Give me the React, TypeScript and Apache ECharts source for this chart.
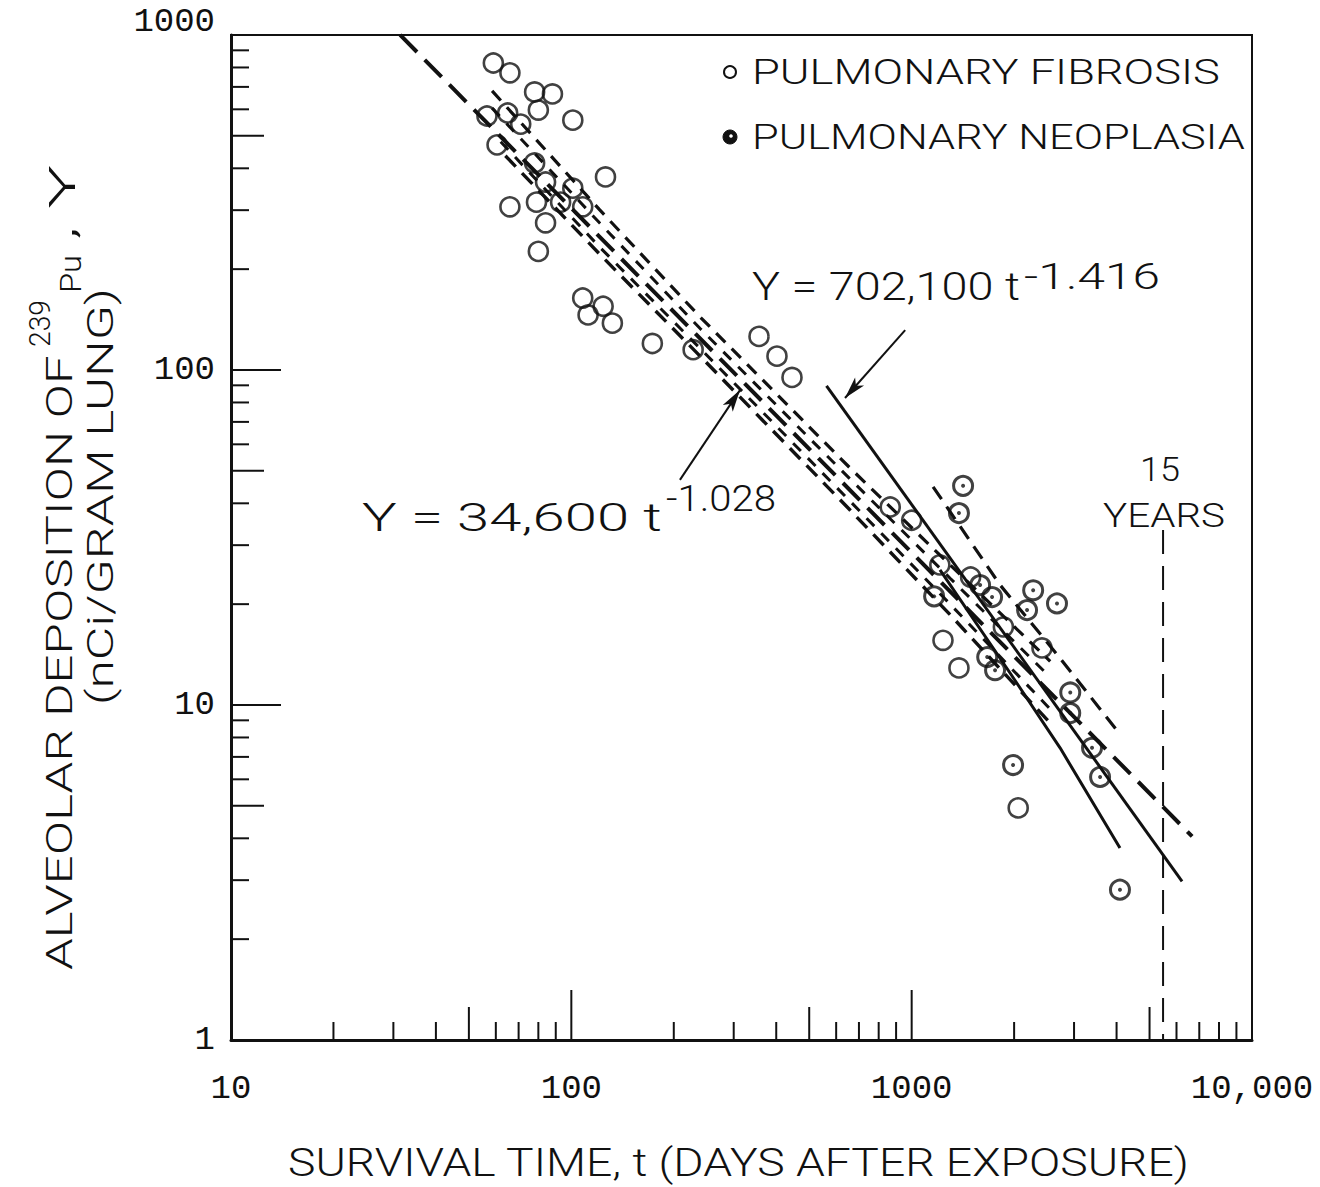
import React, { useEffect, useRef } from "react";
import * as echarts from "echarts";

// Survival time t (days after exposure) and alveolar 239Pu deposition Y (nCi/g lung)
const fibrosisPoints: [number, number][] = [
  [59, 825], [66, 771], [78, 676], [88, 667], [80, 597], [56.5, 573], [65, 585],
  [71, 542], [101, 557], [60.5, 470], [78, 415], [84, 364], [101, 349], [79, 317],
  [93, 317], [108, 307], [66, 307], [84, 275], [80, 226], [126, 377], [108, 164],
  [124, 155], [112, 146], [132, 138], [173, 120], [228, 115], [356, 126], [402, 110],
  [445, 95], [865, 39], [1000, 35.6], [1210, 26.2], [1490, 24.1], [1860, 17.1],
  [2415, 14.8], [1236, 15.6], [1377, 12.9], [2056, 4.93],
];

const neoplasiaPoints: [number, number][] = [
  [1416, 45.1], [1377, 37.4], [1589, 22.8], [1723, 21.0], [1164, 21.1], [2275, 22.0],
  [2673, 20.1], [2183, 19.2], [1758, 12.7], [1667, 13.9], [2924, 10.9], [2924, 9.46],
  [3388, 7.45], [3578, 6.1], [1986, 6.62], [4093, 2.81],
];

// Fitted power laws Y = a * t^b, drawn over the range of t shown
const fibrosisFit = { a: 34600, b: -1.028, tFrom: 31.4, tTo: 6670 };
const neoplasiaFit = { a: 702100, b: -1.416, tFrom: 562, tTo: 6230 };

// Limits about the fibrosis fit
const fibrosisUpperOuter: [number, number][] = [
  [58.5, 681], [121, 301], [239, 144], [659, 51], [1297, 26.2], [2553, 13.5],
];
const fibrosisUpperInner: [number, number][] = [
  [58.5, 605], [121, 275], [239, 133], [659, 47.3], [1297, 23.9], [2553, 12.1],
];
const fibrosisLowerInner: [number, number][] = [
  [62, 480], [121, 233], [239, 116], [659, 40.6], [1297, 20.0], [2553, 9.72],
];
const fibrosisLowerOuter: [number, number][] = [
  [64, 436], [121, 222], [239, 110], [659, 38.2], [1297, 18.6], [2553, 8.83],
];

// Limits about the neoplasia fit
const neoplasiaUpper: [number, number][] = [
  [1156, 44.8], [1820, 22.8], [2729, 13.8], [4047, 8.3],
];
const neoplasiaLower: [number, number][] = [
  [1211, 25.3], [1946, 12.46], [2729, 7.45], [4093, 3.74],
];

// 15 years after exposure, in days
const fifteenYears = 15 * 365.25;
const fifteenYearsSpan: [number, number] = [33.3, 1];

// Axis ticks
const xTickValues = [
  20, 30, 40, 50, 60, 70, 80, 90, 100,
  200, 300, 400, 500, 600, 700, 800, 900, 1000,
  2000, 3000, 4000, 5000, 6000, 7000, 8000, 9000,
];
const yTickValues = [
  2, 3, 4, 5, 6, 7, 8, 9, 10,
  20, 30, 40, 50, 60, 70, 80, 90, 100,
  200, 300, 400, 500, 600, 700, 800, 900,
];
const xTickLabels: Record<number, string> = { 10: "10", 100: "100", 1000: "1000", 10000: "10,000" };
const yTickLabels: Record<number, string> = { 1: "1", 10: "10", 100: "100", 1000: "1000" };

// Arrow annotations pointing at the fits: [from, to]
const neoplasiaArrow: [number, number][] = [[957, 131.6], [637, 82.5]];
const fibrosisArrow: [number, number][] = [[208.5, 47.0], [313, 87.1]];

const FAMILY = 'Roboto, "DejaVu Sans", sans-serif';
const WEIGHT = 300;
const MONO = '"Liberation Mono", "DejaVu Sans Mono", monospace';
const INK = "#111";

const fitLine = (f: { a: number; b: number; tFrom: number; tTo: number }) =>
  [f.tFrom, f.tTo].map((t) => [t, f.a * Math.pow(t, f.b)]);

const tickLength = (v: number) => {
  const m = v / Math.pow(10, Math.floor(Math.log10(v) + 1e-9));
  if (Math.abs(m - 1) < 1e-6) return 50;
  if (Math.abs(m - 5) < 1e-6) return 33;
  return 18;
};

let measureCtx: CanvasRenderingContext2D | null = null;
const measure = (text: string, size: number) => {
  if (!measureCtx) measureCtx = document.createElement("canvas").getContext("2d");
  measureCtx!.font = `${WEIGHT} ${size}px ${FAMILY}`;
  return measureCtx!.measureText(text).width || text.length * size * 0.6;
};

// Text stretched horizontally to span a given length
const stretched = (
  text: string,
  x: number,
  y: number,
  width: number,
  size: number,
  rotation = 0
) => ({
  type: "text",
  x,
  y,
  rotation,
  scaleX: width / measure(text, size),
  silent: true,
  style: {
    text,
    fontFamily: FAMILY,
    fontWeight: WEIGHT,
    fontSize: size,
    fill: INK,
    align: "left",
    verticalAlign: "middle",
  },
});

export default function App() {
  const ref = useRef<HTMLDivElement>(null);

  useEffect(() => {
    if (!ref.current) return;
    const chart = echarts.init(ref.current, undefined, { renderer: "svg" });

    const stroke = (type: number[] | "solid", width = 3) => ({ color: INK, width, type });

    const lineSeries = (name: string, data: number[][], style: any) => ({
      name,
      type: "line",
      data,
      symbol: "none",
      silent: true,
      lineStyle: style,
      z: 3,
    });

    const graphic: any[] = [
      // legend
      { type: "circle", shape: { cx: 730, cy: 72, r: 6 }, style: { fill: "none", stroke: INK, lineWidth: 2 } },
      stretched("PULMONARY FIBROSIS", 752, 72, 468, 35),
      { type: "circle", shape: { cx: 730, cy: 137, r: 7 }, style: { fill: INK, stroke: INK, lineWidth: 1 } },
      { type: "circle", shape: { cx: 731, cy: 136, r: 1.8 }, style: { fill: "#fff" } },
      stretched("PULMONARY NEOPLASIA", 752, 137, 493, 35),
      // fit equations
      stretched("Y = 702,100 t", 752, 287, 268, 38),
      stretched("-1.416", 1024, 276, 136, 37),
      stretched("Y = 34,600 t", 362, 518, 300, 38),
      stretched("-1.028", 666, 498, 110, 37),
      // 15 years marker
      stretched("15", 1140, 470, 40, 34),
      stretched("YEARS", 1103, 515, 122, 34),
      // axis titles
      stretched("SURVIVAL TIME, t (DAYS AFTER EXPOSURE)", 288, 1163, 902, 38),
      stretched("ALVEOLAR DEPOSITION OF", 60, 970, 615, 37, Math.PI / 2),
      stretched("239", 40, 347, 47, 29, Math.PI / 2),
      stretched("Pu", 71, 293, 38, 29, Math.PI / 2),
      stretched(", Y", 62, 240, 75, 37, Math.PI / 2),
      stretched("(nCi/GRAM LUNG)", 100, 705, 417, 37, Math.PI / 2),
    ];

    chart.setOption({
      animation: false,
      backgroundColor: "#fff",
      grid: {
        left: 231,
        top: 35,
        width: 1021,
        height: 1005,
        show: true,
        borderColor: INK,
        borderWidth: 2,
        backgroundColor: "transparent",
      },
      xAxis: {
        type: "log",
        logBase: 10,
        min: 10,
        max: 10000,
        axisLine: { lineStyle: { color: INK, width: 3 } },
        axisTick: { show: false },
        minorTick: { show: false },
        splitLine: { show: false },
        axisLabel: {
          color: INK,
          fontFamily: MONO,
          fontSize: 34,
          margin: 32,
          formatter: (v: number) => xTickLabels[Math.round(v)] ?? "",
        },
      },
      yAxis: {
        type: "log",
        logBase: 10,
        min: 1,
        max: 1000,
        axisLine: { lineStyle: { color: INK, width: 3 } },
        axisTick: { show: false },
        minorTick: { show: false },
        splitLine: { show: false },
        axisLabel: {
          color: INK,
          fontFamily: MONO,
          fontSize: 34,
          margin: 16,
          formatter: (v: number) => {
            const s = yTickLabels[Math.round(v)] ?? "";
            return Math.round(v) === 1000 ? `{top|${s}}` : s;
          },
          rich: {
            top: { fontFamily: MONO, fontSize: 34, color: INK, padding: [0, 0, 26, 0] },
          },
        },
      },
      graphic,
      series: [
        {
          name: "PULMONARY FIBROSIS",
          type: "scatter",
          data: fibrosisPoints,
          symbol: "circle",
          symbolSize: 19,
          itemStyle: { color: "rgba(0,0,0,0)", borderColor: INK, borderWidth: 2.6 },
          z: 5,
        },
        {
          name: "PULMONARY NEOPLASIA",
          type: "scatter",
          data: neoplasiaPoints,
          symbol: "circle",
          symbolSize: 19,
          itemStyle: { color: "rgba(0,0,0,0)", borderColor: INK, borderWidth: 3 },
          z: 5,
        },
        {
          name: "PULMONARY NEOPLASIA (centre)",
          type: "scatter",
          data: neoplasiaPoints,
          symbol: "circle",
          symbolSize: 4,
          silent: true,
          itemStyle: { color: INK },
          z: 5,
        },
        lineSeries("Y = 34,600 t^-1.028", fitLine(fibrosisFit), stroke([24, 11], 4)),
        lineSeries("Y = 702,100 t^-1.416", fitLine(neoplasiaFit), stroke("solid", 3)),
        lineSeries("fibrosis upper outer", fibrosisUpperOuter, stroke([13, 9], 3.2)),
        lineSeries("fibrosis upper inner", fibrosisUpperInner, stroke([11, 10], 3)),
        lineSeries("fibrosis lower inner", fibrosisLowerInner, stroke([11, 10], 3)),
        lineSeries("fibrosis lower outer", fibrosisLowerOuter, stroke([15, 9], 3.4)),
        lineSeries("neoplasia upper", neoplasiaUpper, stroke([15, 9], 3.2)),
        lineSeries("neoplasia lower", neoplasiaLower, stroke("solid", 3)),
        {
          ...lineSeries(
            "15 years",
            fifteenYearsSpan.map((y) => [fifteenYears, y]),
            stroke([24, 12], 2)
          ),
          markLine: {
            silent: true,
            symbol: ["none", "arrow"],
            symbolSize: [9, 22],
            label: { show: false },
            lineStyle: { color: INK, width: 2, type: "solid" },
            data: [
              [{ coord: neoplasiaArrow[0] }, { coord: neoplasiaArrow[1] }],
              [{ coord: fibrosisArrow[0] }, { coord: fibrosisArrow[1] }],
            ],
          },
        },
        {
          name: "x ticks",
          type: "custom",
          silent: true,
          clip: false,
          data: xTickValues.map((v) => [v, 1]),
          renderItem: (_p: any, api: any) => {
            const v = api.value(0);
            const p = api.coord([v, 1]);
            return {
              type: "line",
              shape: { x1: p[0], y1: p[1], x2: p[0], y2: p[1] - tickLength(v) },
              style: { stroke: INK, lineWidth: 2 },
            };
          },
          z: 4,
        },
        {
          name: "y ticks",
          type: "custom",
          silent: true,
          clip: false,
          data: yTickValues.map((v) => [10, v]),
          renderItem: (_p: any, api: any) => {
            const v = api.value(1);
            const p = api.coord([10, v]);
            return {
              type: "line",
              shape: { x1: p[0], y1: p[1], x2: p[0] + tickLength(v), y2: p[1] },
              style: { stroke: INK, lineWidth: 2 },
            };
          },
          z: 4,
        },
      ],
    });

    return () => chart.dispose();
  }, []);

  return (
    <div
      ref={ref}
      style={{ position: "absolute", left: 0, top: 0, width: 1320, height: 1187, background: "#fff" }}
    />
  );
}
